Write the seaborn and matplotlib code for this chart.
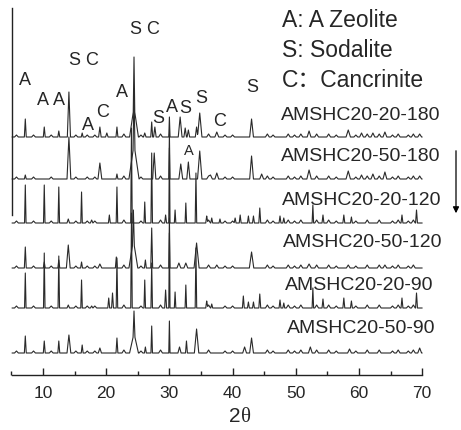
#XRD patterns of AMSHC20 samples, stacked
import matplotlib
matplotlib.use('Agg')
import matplotlib.pyplot as plt
import seaborn as sns
import pandas as pd

sns.set_style('white')
plt.rcParams['font.family'] = ['Liberation Sans', 'Noto Sans CJK SC', 'DejaVu Sans']

# sample names, top to bottom, with vertical offset of each pattern
samples = ['AMSHC20-20-180', 'AMSHC20-50-180', 'AMSHC20-20-120',
           'AMSHC20-50-120', 'AMSHC20-20-90', 'AMSHC20-50-90']
offsets = [293, 251, 207, 162, 122, 77]

# peaks: 2theta position, height, half width
pos_20_180 = [7.2, 10.2, 12.5, 14.1, 16.2, 19.0, 20.1, 21.7, 24.4, 24.4, 26.1, 27.2, 27.7, 30.0,
              31.7, 32.5, 33.0, 34.3, 34.8, 37.5, 43.0, 52.1, 58.3, 60.4, 62.2, 64.1, 69.6]
hgt_20_180 = [18, 10, 6, 45, 4, 10, 4, 10, 50, 30, 4, 15, 10, 20,
              20, 9, 7, 10, 24, 5, 18, 6, 7, 4, 4, 5, 3]
wid_20_180 = [.15, .15, .15, .25, .15, .2, .2, .15, .12, .7, .2, .15, .2, .1,
              .3, .2, .2, .2, .35, .3, .3, .3, .35, .3, .3, .3, .3]

pos_50_180 = [7.2, 14.1, 19.0, 21.7, 24.4, 24.4, 27.6, 30.0, 31.8, 33.0, 34.8, 36.5, 37.5,
              43.0, 44.6, 52.1, 58.3, 60.4, 62.2, 64.1, 69.6]
hgt_50_180 = [4, 42, 16, 5, 55, 35, 26, 45, 15, 17, 28, 4, 6,
              23, 5, 9, 8, 4, 5, 7, 3]
wid_50_180 = [.15, .3, .3, .15, .15, .8, .25, .1, .3, .25, .35, .3, .3,
              .3, .3, .35, .35, .3, .3, .3, .3]

pos_20_120 = [7.2, 10.2, 12.5, 14.0, 16.1, 17.7, 20.5, 21.7, 24.0, 26.1, 27.2, 29.4, 30.0, 30.9,
              32.6, 34.2, 35.9, 36.7, 38.0, 40.4, 41.2, 42.5, 43.3, 44.3, 47.5, 48.1, 52.7,
              54.3, 57.6, 58.8, 66.8, 69.1]
hgt_20_120 = [38, 38, 36, 4, 31, 3, 8, 36, 95, 21, 70, 8, 75, 13,
              20, 50, 7, 5, 4, 5, 8, 7, 7, 15, 7, 5, 18,
              8, 8, 6, 8, 13]
wid_20_120 = [.12, .12, .12, .2, .12, .2, .15, .12, .12, .12, .12, .15, .1, .12,
              .12, .12, .15, .15, .15, .15, .15, .15, .15, .15, .15, .15, .12,
              .15, .15, .15, .15, .15]

pos_50_120 = [7.2, 10.2, 12.5, 14.0, 16.1, 19.0, 21.6, 24.3, 24.3, 26.2, 27.2, 30.0, 31.5,
              32.6, 34.3, 37.5, 43.0, 52.1, 58.3, 64.1]
hgt_50_120 = [21, 6, 8, 23, 6, 4, 11, 30, 28, 8, 40, 50, 5,
              5, 25, 3, 16, 4, 3, 3]
wid_50_120 = [.15, .15, .15, .3, .15, .3, .15, .15, .7, .15, .15, .1, .3,
              .3, .4, .3, .35, .35, .3, .3]

pos_20_90 = [7.2, 10.2, 12.5, 14.0, 16.1, 17.7, 20.4, 21.0, 21.7, 24.0, 26.1, 27.2, 29.4, 30.0,
             30.9, 32.6, 34.2, 35.9, 36.7, 41.7, 42.5, 43.3, 44.3, 47.5, 48.1, 52.7, 54.3,
             57.6, 58.8, 66.8, 69.1]
hgt_20_90 = [35, 55, 52, 3, 28, 2, 10, 15, 50, 95, 28, 45, 18, 75,
             16, 23, 60, 7, 4, 12, 6, 6, 14, 8, 5, 20, 9,
             10, 7, 10, 15]
wid_20_90 = [.12, .12, .12, .2, .12, .2, .15, .15, .12, .12, .12, .12, .15, .1,
             .12, .12, .12, .15, .15, .15, .15, .15, .15, .15, .15, .12, .15,
             .15, .15, .15, .15]

pos_50_90 = [7.2, 10.2, 12.5, 14.1, 16.2, 19.0, 21.7, 24.4, 24.4, 26.2, 27.2, 30.0, 31.6,
             32.7, 34.3, 41.9, 43.0, 52.3, 58.5, 69.6]
hgt_50_90 = [17, 12, 12, 18, 8, 5, 15, 22, 20, 6, 27, 32, 6,
             12, 24, 6, 15, 6, 4, 5]
wid_50_90 = [.15, .15, .15, .3, .15, .25, .15, .15, .7, .15, .12, .1, .25,
             .15, .35, .3, .3, .3, .3, .3]

# small background humps seen along the baselines
bump_pos = [5.8, 8.5, 11.3, 15.2, 17.0, 18.2, 22.8, 25.5, 28.6, 36.2, 38.8, 40.0, 45.5, 46.4,
            48.8, 49.8, 50.8, 53.3, 55.2, 56.4, 59.5, 61.3, 63.2, 65.3, 66.2, 67.8, 68.6]
bump_hgt = [2, 2, 2, 2, 2, 2, 3, 2, 3, 3, 2, 2, 3, 2,
            3, 2, 3, 3, 3, 2, 2, 3, 3, 2, 3, 2, 3]
bump_wid = [.3, .3, .3, .3, .3, .3, .3, .3, .3, .3, .3, .3, .3, .3,
            .3, .3, .3, .3, .3, .3, .3, .3, .3, .3, .3, .3, .3]

peaks = [(pos_20_180, hgt_20_180, wid_20_180), (pos_50_180, hgt_50_180, wid_50_180),
         (pos_20_120, hgt_20_120, wid_20_120), (pos_50_120, hgt_50_120, wid_50_120),
         (pos_20_90, hgt_20_90, wid_20_90), (pos_50_90, hgt_50_90, wid_50_90)]

# phase labels above peaks: text, x px, baseline px
phase_labels = [('A', 25, 85), ('A', 43, 105), ('A', 59, 105), ('S C', 84, 65), ('A', 88, 130),
                ('C', 103, 117), ('A', 122, 97), ('S C', 145, 34), ('S', 158, 123), ('A', 172, 112),
                ('S', 185, 113), ('S', 201, 103), ('C', 220, 126), ('S', 252, 92)]
legend_lines = ['A: A Zeolite', 'S: Sodalite', 'C\uff1aCancrinite']


def px2x(px):
    return 10 + (px - 43) / 6.32


def py2y(py):
    return 430 - py


def trace_df(pos, hgt, wid, name, off):
    pos = pos + bump_pos
    hgt = hgt + bump_hgt
    wid = wid + bump_wid
    xs = sorted(set([5.1, 70.0] + [p + d for p, w in zip(pos, wid) for d in (-w, 0, w)]))
    ys = [off + sum(max(0, h * (1 - abs(x - p) / w)) for p, h, w in zip(pos, hgt, wid)) for x in xs]
    return pd.DataFrame({'two_theta': xs, 'intensity': ys, 'sample': name})


df = pd.concat([trace_df(*pk, nm, off) for pk, nm, off in zip(peaks, samples, offsets)])

fig = plt.figure(figsize=(4.61, 4.30), dpi=100)
ax = fig.add_axes([0, 0, 1, 1])
for nm in samples:
    sns.lineplot(data=df[df['sample'] == nm], x='two_theta', y='intensity', ax=ax,
                 color='#2a2a2a', lw=0.8, sort=True, estimator=None)

ax.set_xlim(px2x(0), px2x(461))
ax.set_ylim(0, 430)
ax.patch.set_alpha(0)
for s in ['top', 'right']:
    ax.spines[s].set_visible(False)
ax.spines['bottom'].set_position(('data', py2y(375)))
ax.spines['bottom'].set_bounds(px2x(12), 70)
ax.spines['left'].set_position(('data', px2x(12)))
ax.spines['left'].set_bounds(py2y(215), py2y(8))
for s in ['bottom', 'left']:
    ax.spines[s].set_color('#222222')
    ax.spines[s].set_linewidth(1.0)
ax.set_xticks([10, 20, 30, 40, 50, 60, 70])
ax.set_xticks([5, 15, 25, 35, 45, 55, 65], minor=True)
ax.tick_params(axis='x', which='both', bottom=True, color='#222222')
ax.tick_params(axis='x', which='major', direction='in', length=5, width=1, labelsize=12.5, pad=8)
ax.tick_params(axis='x', which='minor', direction='in', length=3, width=1)
ax.set_yticks([])
ax.set_xlabel('')
ax.set_ylabel('')

# axis title 2θ: sans 2, serif theta
ax.text(px2x(241), py2y(422), '2', fontsize=15, ha='right', va='baseline')
ax.text(px2x(241), py2y(422), '\u03b8', fontsize=15, ha='left', va='baseline',
        family=['Liberation Serif'])

for nm, bx, by in zip(samples, [281, 281, 282, 283, 285, 287], [120, 161, 205, 247, 290, 333]):
    ax.text(px2x(bx), py2y(by), nm, fontsize=14, ha='left', va='baseline')

for txt, bx, by in phase_labels:
    ax.text(px2x(bx), py2y(by), txt, fontsize=13, ha='center', va='baseline')
ax.text(px2x(189), py2y(155), 'A', fontsize=10.5, ha='center', va='baseline')

for i, txt in enumerate(legend_lines):
    ax.text(px2x(282), py2y(27 + 30 * i), txt, fontsize=16.5, ha='left', va='baseline')

ax.annotate('', xy=(px2x(456), py2y(216)), xytext=(px2x(456), py2y(148)),
            arrowprops=dict(arrowstyle='-|>', color='black', lw=0.9, mutation_scale=9))

fig.savefig('out.png', dpi=100)
